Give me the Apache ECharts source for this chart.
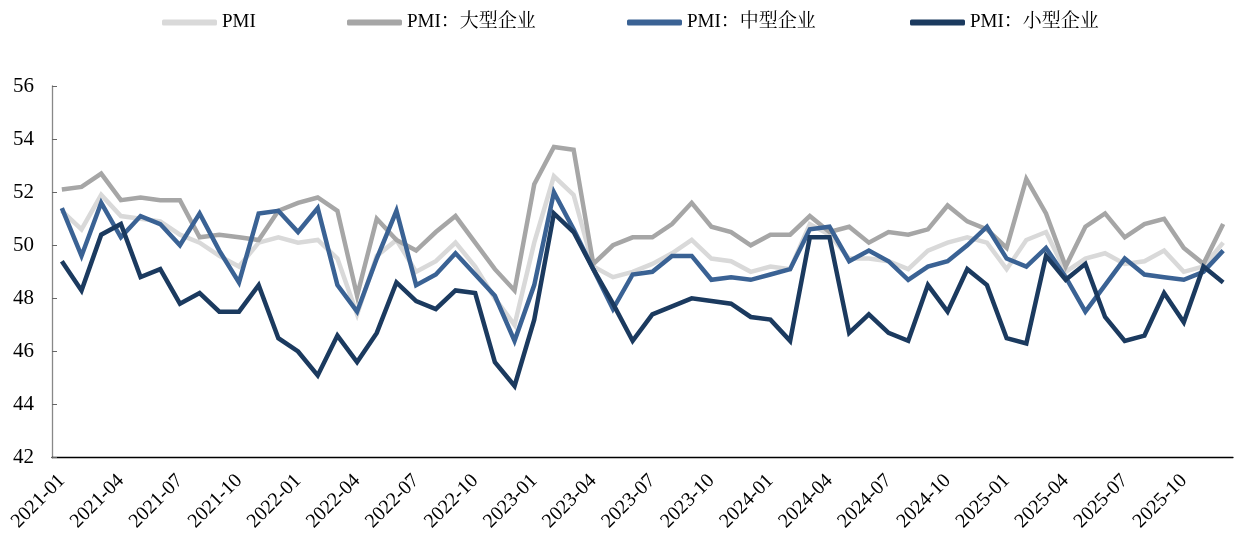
<!DOCTYPE html>
<html>
<head>
<meta charset="utf-8">
<script src="https://cdn.jsdelivr.net/npm/echarts@6/dist/echarts.min.js"></script>
<style>
  html, body { margin: 0; padding: 0; background: #fff; }
  #chart { width: 1241px; height: 534px; }
</style>
</head>
<body>
<div id="chart"></div>
<script>
// Monthly manufacturing PMI, overall and by enterprise size
const months = [
  '2021-01','2021-02','2021-03','2021-04','2021-05','2021-06','2021-07','2021-08','2021-09','2021-10','2021-11','2021-12',
  '2022-01','2022-02','2022-03','2022-04','2022-05','2022-06','2022-07','2022-08','2022-09','2022-10','2022-11','2022-12',
  '2023-01','2023-02','2023-03','2023-04','2023-05','2023-06','2023-07','2023-08','2023-09','2023-10','2023-11','2023-12',
  '2024-01','2024-02','2024-03','2024-04','2024-05','2024-06','2024-07','2024-08','2024-09','2024-10','2024-11','2024-12',
  '2025-01','2025-02','2025-03','2025-04','2025-05','2025-06','2025-07','2025-08','2025-09','2025-10','2025-11','2025-12'
];

const pmiAll = [
  51.3, 50.6, 51.9, 51.1, 51.0, 50.9, 50.4, 50.1, 49.6, 49.2, 50.1, 50.3,
  50.1, 50.2, 49.5, 47.4, 49.6, 50.2, 49.0, 49.4, 50.1, 49.2, 48.0, 47.0,
  50.1, 52.6, 51.9, 49.2, 48.8, 49.0, 49.3, 49.7, 50.2, 49.5, 49.4, 49.0,
  49.2, 49.1, 50.8, 50.4, 49.5, 49.5, 49.4, 49.1, 49.8, 50.1, 50.3, 50.1,
  49.1, 50.2, 50.5, 49.0, 49.5, 49.7, 49.3, 49.4, 49.8, 49.0, 49.2, 50.1
];

const pmiLarge = [
  52.1, 52.2, 52.7, 51.7, 51.8, 51.7, 51.7, 50.3, 50.4, 50.3, 50.2, 51.3,
  51.6, 51.8, 51.3, 48.1, 51.0, 50.2, 49.8, 50.5, 51.1, 50.1, 49.1, 48.3,
  52.3, 53.7, 53.6, 49.3, 50.0, 50.3, 50.3, 50.8, 51.6, 50.7, 50.5, 50.0,
  50.4, 50.4, 51.1, 50.5, 50.7, 50.1, 50.5, 50.4, 50.6, 51.5, 50.9, 50.6,
  49.9, 52.5, 51.2, 49.2, 50.7, 51.2, 50.3, 50.8, 51.0, 49.9, 49.3, 50.8
];

const pmiMedium = [
  51.4, 49.6, 51.6, 50.3, 51.1, 50.8, 50.0, 51.2, 49.8, 48.6, 51.2, 51.3,
  50.5, 51.4, 48.5, 47.5, 49.5, 51.3, 48.5, 48.9, 49.7, 48.9, 48.1, 46.4,
  48.5, 52.0, 50.6, 49.1, 47.6, 48.9, 49.0, 49.6, 49.6, 48.7, 48.8, 48.7,
  48.9, 49.1, 50.6, 50.7, 49.4, 49.8, 49.4, 48.7, 49.2, 49.4, 50.0, 50.7,
  49.5, 49.2, 49.9, 48.8, 47.5, 48.5, 49.5, 48.9, 48.8, 48.7, 49.0, 49.8
];

const pmiSmall = [
  49.4, 48.3, 50.4, 50.8, 48.8, 49.1, 47.8, 48.2, 47.5, 47.5, 48.5, 46.5,
  46.0, 45.1, 46.6, 45.6, 46.7, 48.6, 47.9, 47.6, 48.3, 48.2, 45.6, 44.7,
  47.2, 51.2, 50.5, 49.1, 47.8, 46.4, 47.4, 47.7, 48.0, 47.9, 47.8, 47.3,
  47.2, 46.4, 50.3, 50.3, 46.7, 47.4, 46.7, 46.4, 48.5, 47.5, 49.1, 48.5,
  46.5, 46.3, 49.6, 48.7, 49.3, 47.3, 46.4, 46.6, 48.2, 47.1, 49.2, 48.6
];

const seriesNames = ['PMI', 'PMI：大型企业', 'PMI：中型企业', 'PMI：小型企业'];
const seriesColors = ['#d9d9d9', '#a6a6a6', '#3a6294', '#1b3a5f'];
const seriesData = [pmiAll, pmiLarge, pmiMedium, pmiSmall];
const legendLefts = [157, 342, 622, 905];

const serif = "'Liberation Serif', 'Times New Roman', 'Noto Serif CJK SC', 'Noto Sans CJK SC', serif";

const chart = echarts.init(document.getElementById('chart'), null, { renderer: 'canvas' });

chart.setOption({
  backgroundColor: '#ffffff',
  animation: false,
  legend: seriesNames.map((name, i) => ({
    data: [name],
    left: legendLefts[i],
    top: 8,
    icon: 'roundRect',
    itemWidth: 55,
    itemHeight: 6,
    itemGap: 5,
    textStyle: { fontFamily: serif, fontSize: 19, color: '#000' }
  })),
  grid: { left: 52, right: 8, top: 86, bottom: 75, containLabel: false },
  xAxis: {
    type: 'category',
    data: months,
    boundaryGap: true,
    axisLine: { lineStyle: { color: '#000', width: 1.3 } },
    axisTick: { inside: true, length: 5, interval: 2, lineStyle: { color: '#666' } },
    axisLabel: {
      interval: 2,
      rotate: 45,
      margin: 20,
      fontFamily: serif,
      fontSize: 20,
      color: '#000'
    },
    splitLine: { show: false }
  },
  yAxis: {
    type: 'value',
    min: 42,
    max: 56,
    interval: 2,
    axisLine: { show: true, lineStyle: { color: '#888', width: 1.3 } },
    axisTick: { show: true, inside: true, length: 5, lineStyle: { color: '#666' } },
    axisLabel: { margin: 18, fontFamily: serif, fontSize: 21, color: '#000' },
    splitLine: { show: false }
  },
  series: seriesNames.map((name, i) => ({
    name: name,
    type: 'line',
    data: seriesData[i],
    symbol: 'none',
    smooth: false,
    color: seriesColors[i],
    lineStyle: { color: seriesColors[i], width: 4.5, join: 'miter' }
  }))
});
</script>
</body>
</html>
